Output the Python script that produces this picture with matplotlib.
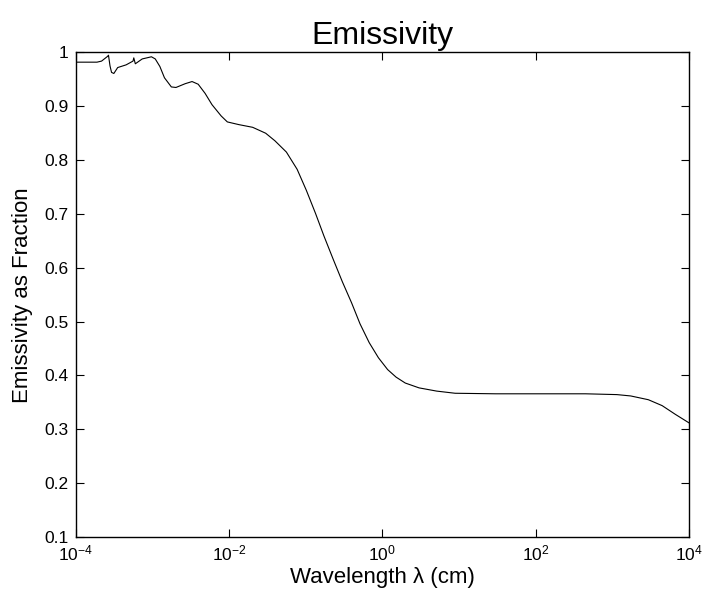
import matplotlib
matplotlib.use("Agg")
import matplotlib.pyplot as plt
import numpy as np

# Data (log10 of wavelength in cm, emissivity fraction)
log_wavelength = [-4.00, -3.72, -3.66, -3.58, -3.57, -3.55, -3.53, -3.50, -3.45, -3.34,
                  -3.25, -3.24, -3.22, -3.13, -3.01, -2.96, -2.90, -2.84, -2.75, -2.69,
                  -2.57, -2.48, -2.40, -2.31, -2.22, -2.10, -2.02, -1.87, -1.69, -1.52,
                  -1.40, -1.25, -1.11, -0.99, -0.87, -0.76, -0.64, -0.52, -0.40, -0.29,
                  -0.17, -0.05, 0.07, 0.18, 0.30, 0.48, 0.71, 0.95, 1.48, 2.65,
                  3.06, 3.24, 3.47, 3.65, 3.82, 4.00]
emissivity = [0.982, 0.982, 0.984, 0.993, 0.995, 0.975, 0.963, 0.961, 0.972, 0.977,
              0.984, 0.990, 0.979, 0.988, 0.992, 0.988, 0.974, 0.953, 0.936, 0.935,
              0.942, 0.946, 0.941, 0.924, 0.903, 0.882, 0.871, 0.866, 0.861, 0.850,
              0.836, 0.815, 0.783, 0.744, 0.701, 0.659, 0.616, 0.574, 0.535, 0.496,
              0.461, 0.433, 0.411, 0.397, 0.386, 0.377, 0.371, 0.367, 0.366, 0.366,
              0.3645, 0.362, 0.355, 0.344, 0.328, 0.312]

x_ticks = [1e-4, 1e-2, 1e0, 1e2, 1e4]
x_tick_labels = ["10$^{\\mathregular{-4}}$", "10$^{\\mathregular{-2}}$", "10$^{\\mathregular{0}}$",
                 "10$^{\\mathregular{2}}$", "10$^{\\mathregular{4}}$"]
y_ticks = [0.1, 0.2, 0.3, 0.4, 0.5, 0.6, 0.7, 0.8, 0.9, 1.0]
y_tick_labels = ["0.1", "0.2", "0.3", "0.4", "0.5", "0.6", "0.7", "0.8", "0.9", "1"]

plt.rcParams["font.family"] = ["Liberation Sans", "DejaVu Sans"]
plt.rcParams["mathtext.fontset"] = "custom"
plt.rcParams["mathtext.rm"] = "Liberation Sans"
plt.rcParams["mathtext.it"] = "Liberation Sans"

fig = plt.figure(figsize=(7.05, 5.97), dpi=100)
ax = fig.add_axes([0.1071, 0.1005, 0.8702, 0.8116])

wl = 10.0 ** np.array(log_wavelength)
ax.plot(wl, emissivity, color="black", lw=0.8)

ax.set_xscale("log")
ax.set_xlim(1e-4, 1e4)
ax.set_ylim(0.1, 1.0)
ax.set_xticks(x_ticks, labels=x_tick_labels)
ax.minorticks_off()
ax.set_yticks(y_ticks, labels=y_tick_labels)

ax.tick_params(direction="in", length=6, width=0.8, top=True, right=True,
               labelsize=12.5, colors="black")
ax.tick_params(axis="x", pad=5)
ax.tick_params(axis="y", pad=5)
for s in ax.spines.values():
    s.set_linewidth(1.0)

ax.set_title("Emissivity", fontsize=23, pad=6)
ax.set_xlabel("Wavelength λ (cm)", fontsize=16, labelpad=2)
ax.set_ylabel("Emissivity as Fraction", fontsize=16, labelpad=8)

fig.savefig("out.png", dpi=100)
